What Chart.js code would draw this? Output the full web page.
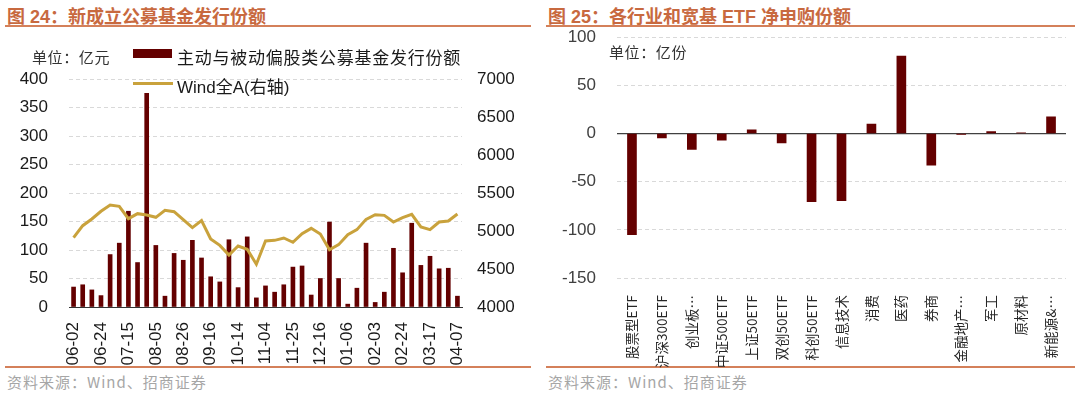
<!DOCTYPE html>
<html>
<head>
<meta charset="utf-8">
<script src="https://cdn.jsdelivr.net/npm/chart.js@4.4.0/dist/chart.umd.min.js"></script>
<style>
  body { margin: 0; background: #fff; }
  #wrap { position: relative; width: 1080px; height: 395px; overflow: hidden; font-family: "Liberation Sans", "Noto Sans CJK SC", sans-serif; }
  .title { position: absolute; top: 2px; font-size: 18px; font-weight: bold; color: #c8693f; white-space: nowrap; font-family: "Liberation Sans", "Noto Sans CJK SC", sans-serif; }
  .rule { position: absolute; height: 2px; background: #d4805a; }
  .src { position: absolute; top: 371px; font-size: 15px; letter-spacing: 1px; color: #a6a6a6; white-space: nowrap; font-family: "Noto Sans CJK SC", sans-serif; }
  .unit { position: absolute; font-size: 15px; letter-spacing: 0.6px; color: #333; white-space: nowrap; font-family: "Noto Sans CJK SC", sans-serif; z-index: 2; }
  .leg { position: absolute; font-size: 17px; color: #1a1a1a; white-space: nowrap; font-family: "Liberation Sans", "Noto Sans CJK SC", sans-serif; z-index: 2; }
  .sw { position: absolute; z-index: 2; }
  canvas { position: absolute; }
</style>
</head>
<body>
<div id="wrap">
  <div class="title" style="left:7px">图 24：新成立公募基金发行份额</div>
  <div class="rule" style="left:5px;width:526px;top:25px"></div>
  <div class="rule" style="left:5px;width:526px;top:366px"></div>
  <div class="src" style="left:7px">资料来源：Wind、招商证券</div>

  <div class="title" style="left:548px">图 25：各行业和宽基 ETF 净申购份额</div>
  <div class="rule" style="left:546px;width:529px;top:25px"></div>
  <div class="rule" style="left:546px;width:529px;top:366px"></div>
  <div class="src" style="left:548px">资料来源：Wind、招商证券</div>

  <canvas id="fundChart" width="540" height="335" style="left:0;top:30px"></canvas>
  <canvas id="etfChart" width="540" height="362" style="left:540px;top:6px"></canvas>

  <div class="unit" style="left:32px;top:46px">单位：亿元</div>
  <div class="sw" style="left:133px;top:49px;width:39px;height:9px;background:#640000"></div>
  <div class="leg" style="left:177px;top:44px;letter-spacing:0.75px">主动与被动偏股类公募基金发行份额</div>
  <div class="sw" style="left:133px;top:82px;width:40px;height:3px;background:#c9a23c"></div>
  <div class="leg" style="left:177px;top:73px">Wind全A(右轴)</div>

  <div class="unit" style="left:609px;top:41px">单位：亿份</div>
</div>

<script>
// weekly issuance (left chart)
const weekLabels = [
  "06-02", "06-09", "06-16", "06-24", "07-01", "07-08", "07-15", "07-22", "07-29",
  "08-05", "08-12", "08-19", "08-26", "09-02", "09-09", "09-16", "09-23", "09-30",
  "10-14", "10-21", "10-28", "11-04", "11-11", "11-18", "11-25", "12-02", "12-09",
  "12-16", "12-23", "12-30", "01-06", "01-13", "01-20", "02-03", "02-10", "02-17",
  "02-24", "03-03", "03-10", "03-17", "03-24", "03-31", "04-07"
];
const fundIssuance = [
  35, 39, 30, 20, 92, 112, 168, 78, 375,
  108, 19, 94, 82, 117, 86, 53, 44, 118,
  34, 123, 16, 37, 26, 39, 70, 72, 21,
  50, 149, 50, 5, 33, 112, 8, 26, 103,
  60, 147, 73, 89, 67, 68, 19
];
const windAllA = [
  4912, 5070, 5158, 5259, 5342, 5325, 5162, 5228, 5210,
  5180, 5272, 5254, 5149, 5044, 5136, 4895, 4811, 4684,
  4803, 4759, 4563, 4870, 4877, 4908, 4851, 4965, 5035,
  4960, 4754, 4820, 4952, 5018, 5153, 5215, 5206, 5118,
  5175, 5219, 5053, 5018, 5118, 5131, 5224
];

// ETF net subscription (right chart)
const etfLabels = [
  "股票型ETF", "沪深300ETF", "创业板…", "中证500ETF", "上证50ETF", "双创50ETF",
  "科创50ETF", "信息技术", "消费", "医药", "券商", "金融地产…", "军工", "原材料", "新能源&…"
];
const etfNetSub = [-105, -4.5, -16.5, -7, 3.8, -9.7, -70.7, -69.7, 9.7, 80.3, -32.8, -1, 2, 0.7, 17.2];

const numFont = "'Liberation Sans', Arial, sans-serif";
const cjkFont = "'Noto Sans CJK SC', sans-serif";
const barColor = "#640000";

new Chart(document.getElementById("fundChart"), {
  type: "bar",
  data: {
    labels: weekLabels,
    datasets: [
      {
        type: "line",
        label: "Wind全A(右轴)",
        data: windAllA,
        yAxisID: "y1",
        borderColor: "#c9a23c",
        borderWidth: 3,
        pointRadius: 0,
        tension: 0,
        order: 0,
      },
      {
        label: "主动与被动偏股类公募基金发行份额",
        data: fundIssuance,
        yAxisID: "y",
        backgroundColor: barColor,
        barThickness: 4,
        order: 1,
      },
    ],
  },
  options: {
    responsive: false,
    animation: false,
    devicePixelRatio: 1,
    layout: { padding: { top: 49, left: 0, right: 0, bottom: 0 } },
    plugins: { legend: { display: false }, tooltip: { enabled: false } },
    scales: {
      x: {
        grid: { display: false },
        border: { display: true, color: "#333", width: 1 },
        ticks: {
          autoSkip: false,
          minRotation: 90,
          maxRotation: 90,
          padding: 7,
          color: "#1a1a1a",
          font: { family: numFont, size: 17 },
          callback: (v, i) => (i % 3 === 0 ? weekLabels[i] : ""),
        },
        afterFit: (s) => { s.height = 58; },
      },
      y: {
        position: "left",
        min: 0,
        max: 400,
        ticks: { stepSize: 50, padding: 21, color: "#1a1a1a", font: { family: numFont, size: 17 } },
        grid: { color: "#d9d9d9", drawTicks: false },
        border: { display: false, dash: [4, 3] },
        afterFit: (s) => { s.width = 69; },
      },
      y1: {
        position: "right",
        min: 4000,
        max: 7000,
        ticks: {
          stepSize: 500,
          padding: 15,
          color: "#1a1a1a",
          font: { family: numFont, size: 17 },
          callback: (v) => String(v),
        },
        grid: { drawOnChartArea: false, drawTicks: false },
        border: { display: false },
        afterFit: (s) => { s.width = 78; },
      },
    },
  },
});

new Chart(document.getElementById("etfChart"), {
  type: "bar",
  data: {
    labels: etfLabels,
    datasets: [
      {
        label: "净申购份额",
        data: etfNetSub,
        backgroundColor: barColor,
        barThickness: 9,
      },
    ],
  },
  options: {
    responsive: false,
    animation: false,
    devicePixelRatio: 1,
    layout: { padding: { top: 31, left: 0, right: 14, bottom: 0 } },
    plugins: { legend: { display: false }, tooltip: { enabled: false } },
    scales: {
      x: {
        grid: { display: false },
        border: { display: false },
        ticks: {
          autoSkip: false,
          minRotation: 90,
          maxRotation: 90,
          padding: 9,
          color: "#262626",
          font: { family: cjkFont, size: 13.5 },
        },
        afterFit: (s) => { s.height = 90; },
      },
      y: {
        min: -150,
        max: 100,
        ticks: { stepSize: 50, padding: 21, color: "#404040", font: { family: numFont, size: 17 } },
        grid: {
          drawTicks: false,
          color: (ctx) => (ctx.tick && ctx.tick.value === 0 ? "#404040" : "#d9d9d9"),
          lineWidth: (ctx) => (ctx.tick && ctx.tick.value === 0 ? 1.3 : 1),
        },
        border: {
          display: false,
          dash: (ctx) => (ctx.tick && ctx.tick.value === 0 ? [] : [4, 3]),
        },
        afterFit: (s) => { s.width = 77; },
      },
    },
  },
});
</script>
</body>
</html>
